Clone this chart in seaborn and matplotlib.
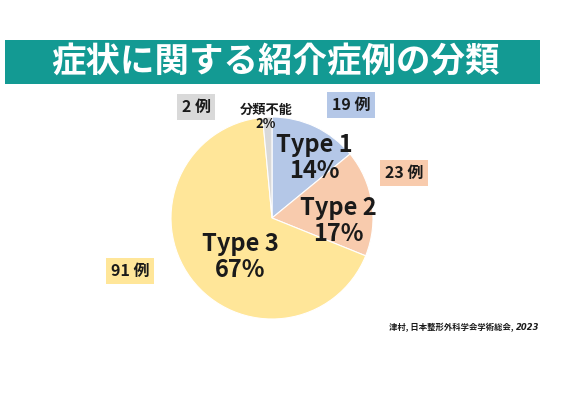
import matplotlib
matplotlib.use("Agg")
import matplotlib.pyplot as plt
import seaborn as sns
from matplotlib.patches import Rectangle

sns.set_theme(style="white")
plt.rcParams['font.family'] = ['Noto Sans CJK JP', 'DejaVu Sans']

# Data
categories = ["Type 1", "Type 2", "Type 3", "分類不能"]
counts = [19, 23, 91, 2]
pct_labels = ["14%", "17%", "67%", "2%"]
count_labels = ["19 例", "23 例", "91 例", "2 例"]
colors = ["#B4C7E7", "#F8CBAD", "#FFE699", "#D9D9D9"]
title = "症状に関する紹介症例の分類"
citation = "津村, 日本整形外科学会学術総会, "
citation_year = "2023"

W, H = 561, 397
fig = plt.figure(figsize=(W / 100, H / 100), dpi=100)
fig.patch.set_facecolor("white")

def fx(x):
    return x / W

def fy(y):
    return 1 - y / H

# Title banner
fig.patches.append(Rectangle((fx(5), fy(84)), fx(535), 44 / H, transform=fig.transFigure,
                             facecolor="#139A93", edgecolor="none", zorder=0))
fig.text(fx(275), fy(61), title, color="white", fontsize=24.8, fontweight="bold",
         ha="center", va="center")

# Pie
cx, cy, r = 272, 218, 101
ax = fig.add_axes([fx(cx - r), fy(cy + r), 2 * r / W, 2 * r / H])
ax.pie(counts, colors=colors, startangle=90, counterclock=False,
       wedgeprops=dict(linewidth=0.8, edgecolor="white"))
ax.set_xlim(-1, 1)
ax.set_ylim(-1, 1)
ax.set_aspect("equal")
ax.axis("off")

txtc = "#1a1a1a"
# Inner labels
inner_pos = [(314, 158), (338, 221), (240, 257)]
for (x, y), cat, p in zip(inner_pos, categories[:3], pct_labels[:3]):
    fig.text(fx(x), fy(y), f"{cat}\n{p}", fontsize=17, fontweight="bold", color=txtc,
             ha="center", va="center", linespacing=1.1)
fig.text(fx(266), fy(117), f"{categories[3]}\n{pct_labels[3]}", fontsize=9.5,
         fontweight="bold", color=txtc, ha="center", va="center", linespacing=1.05)

# Count labels with boxes
count_pos = [(351, 105), (404, 173), (130, 271), (196, 107)]
for (x, y), lab, c in zip(count_pos, count_labels, colors):
    fig.text(fx(x), fy(y), lab, fontsize=11.5, fontweight="bold", color=txtc,
             ha="center", va="center",
             bbox=dict(boxstyle="square,pad=0.3", facecolor=c, edgecolor="none"))

# Citation
t1 = fig.text(fx(389), fy(327), citation, fontsize=6,
              fontweight="bold", color=txtc, ha="left", va="center")
fig.canvas.draw()
bb = t1.get_window_extent(renderer=fig.canvas.get_renderer())
fig.text(bb.x1 / W, fy(327), citation_year, fontsize=6, fontweight="bold", style="italic",
         color=txtc, ha="left", va="center", family=["DejaVu Sans"])

fig.savefig("out.png", dpi=100)
